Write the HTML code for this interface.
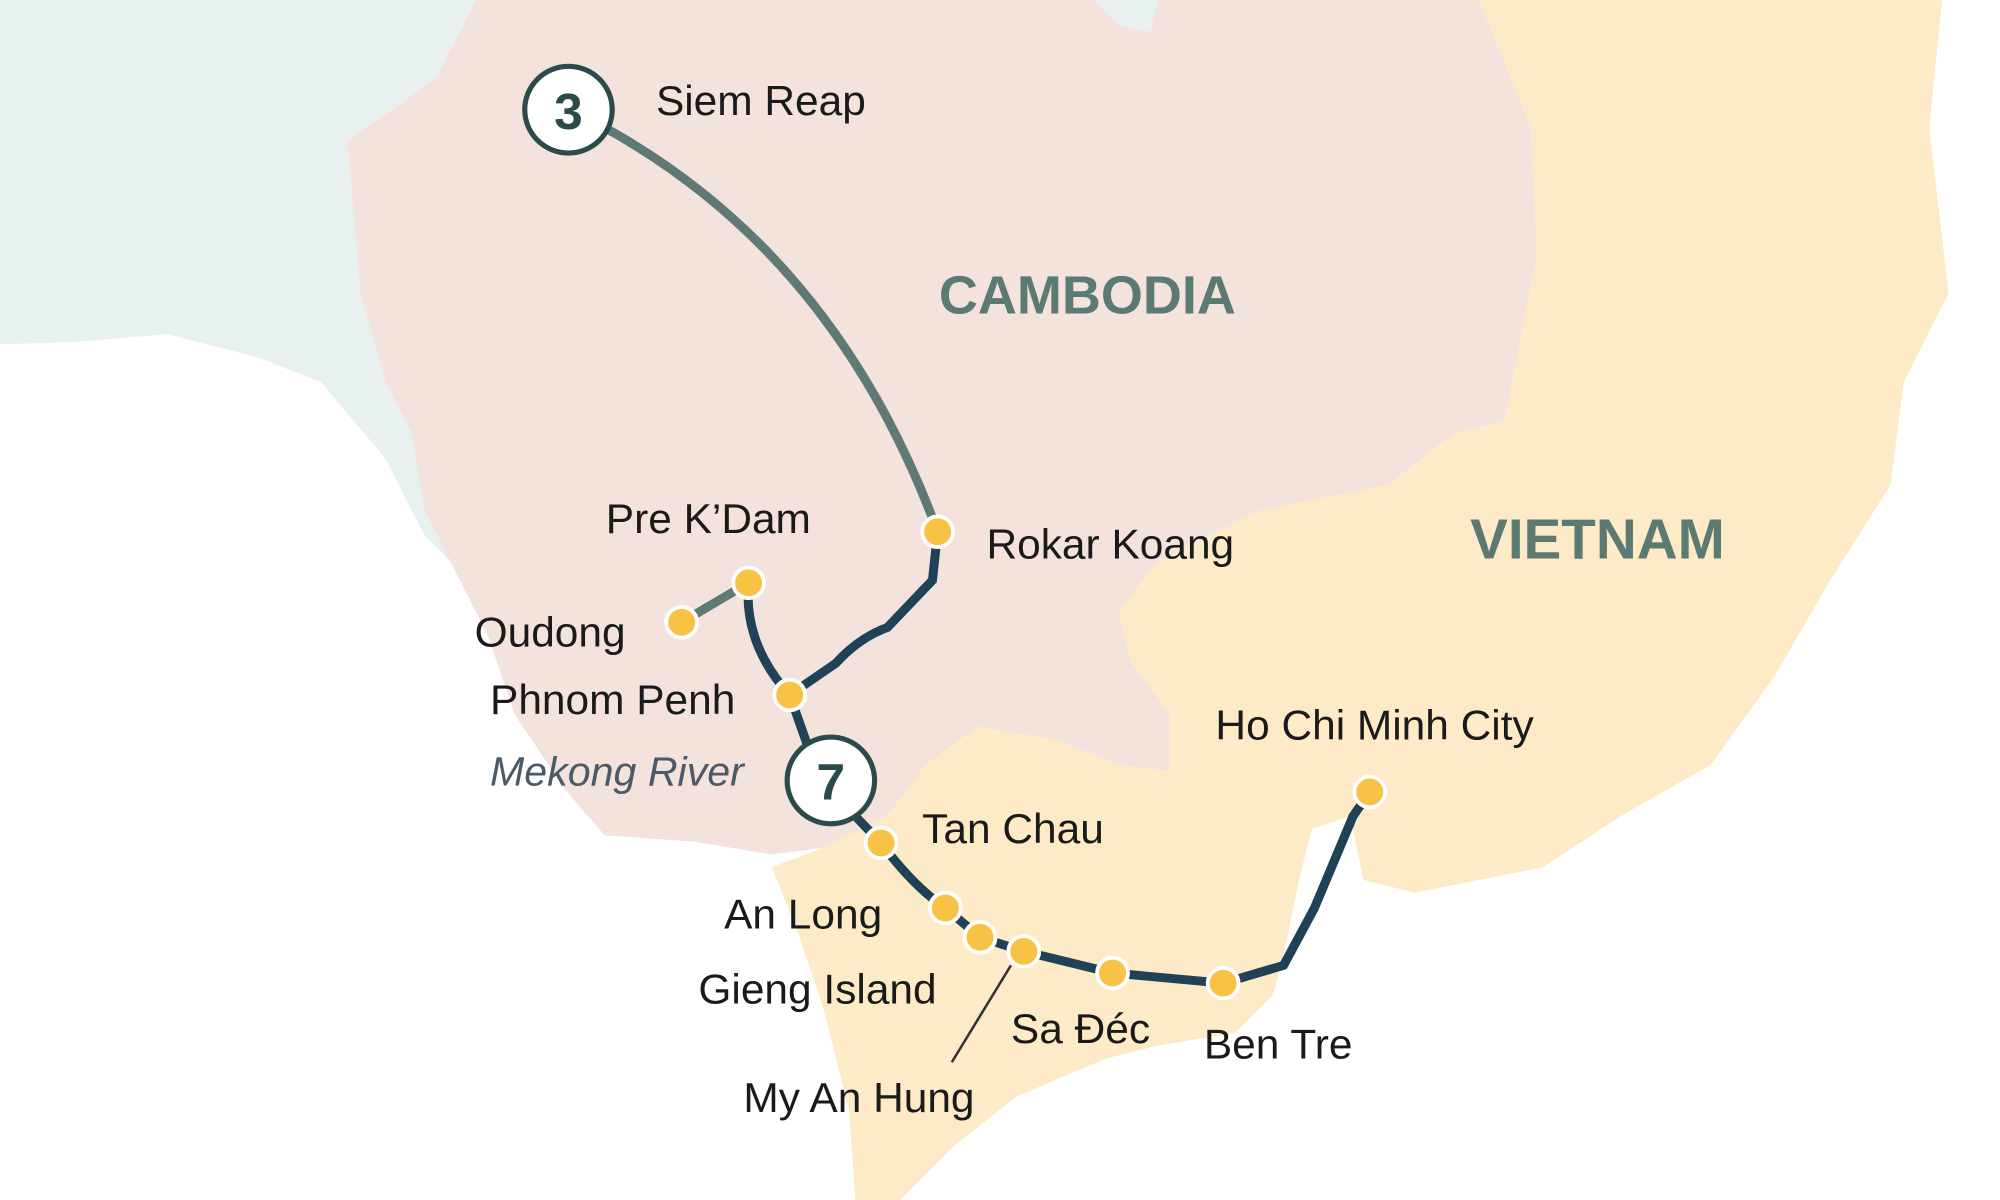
<!DOCTYPE html>
<html><head><meta charset="utf-8"><style>
html,body{margin:0;padding:0;background:#fff;}
svg{display:block;}
text{font-family:"Liberation Sans",sans-serif;}
</style></head><body>
<svg width="2000" height="1200" viewBox="0 0 1555 941" preserveAspectRatio="none" xmlns="http://www.w3.org/2000/svg">
<rect width="1555" height="941" fill="#ffffff"/>
<!-- light blue land/sea top-left -->
<path d="M0,0 L900,0 L900,30 L860,10 L380,0 L340,60 L300,90 L270,110 L280,230 L300,300 L320,340 L330,400 L350,440 L330,420 L300,360 L250,300 L200,280 L130,262 L60,268 L0,270 Z" fill="#e8f0f0"/>
<path d="M850,0 L900,0 L895,25 L870,20 Z" fill="#e8f0f0"/>
<!-- Cambodia -->
<path d="M370,0 L850,0 L870,20 L895,25 L900,0 L1160,0 L1190,100 L1195,200 L1170,330 L1130,340 L1080,380 L980,400 L900,440 L870,480 L880,520 L910,560 L910,605 L870,600 L820,580 L760,570 L720,600 L690,640 L640,665 L600,670 L540,660 L470,655 L440,620 L420,590 L400,560 L380,500 L350,440 L330,400 L320,340 L300,300 L280,230 L270,110 L300,90 L340,60 Z" fill="#f3e3dc"/>
<!-- Vietnam -->
<path d="M1150,0 L1510,0 L1500,100 L1515,230 L1480,300 L1470,380 L1420,460 L1380,530 L1330,600 L1260,640 L1200,680 L1100,700 L1060,690 L1050,640 L1020,650 L1010,690 L1000,740 L990,780 L960,810 L900,820 L860,830 L790,860 L740,900 L700,941 L665,941 L660,870 L640,790 L620,730 L600,680 L640,665 L690,640 L720,600 L760,570 L820,580 L870,600 L910,605 L910,560 L880,520 L870,480 L900,440 L980,400 L1080,380 L1130,340 L1170,330 L1195,200 L1190,100 Z" fill="#fdebc8"/>
<!-- routes -->
<path d="M470,100 Q650,200 729,417" fill="none" stroke="#5f7a74" stroke-width="7"/>
<path d="M530,488 L582,457" fill="none" stroke="#5f7a74" stroke-width="7"/>
<path d="M729,417 L725,455 L690,492 Q668,500 650,520 L614,545" fill="none" stroke="#1f4257" stroke-width="7"/>
<path d="M582,457 Q578,505 614,545 L628,585" fill="none" stroke="#1f4257" stroke-width="7"/>
<path d="M665,640 L685,661 Q710,695 735,712 L762,735 L796,746 L865,763 L951,771 L998,757 L1022,712 L1052,640 L1065,621" fill="none" stroke="#1f4257" stroke-width="7" stroke-linejoin="round"/>
<line x1="786" y1="757" x2="740" y2="833" stroke="#333" stroke-width="2"/>
<!-- dots -->
<g fill="#f8c245" stroke="#ffffff" stroke-width="3">
<circle cx="729" cy="417" r="12"/><circle cx="582" cy="457" r="12"/><circle cx="530" cy="488" r="12"/>
<circle cx="614" cy="545" r="12"/><circle cx="685" cy="661" r="12"/><circle cx="735" cy="712" r="12"/>
<circle cx="762" cy="735" r="12"/><circle cx="796" cy="746" r="12"/><circle cx="865" cy="763" r="12"/>
<circle cx="951" cy="771" r="12"/><circle cx="1065" cy="621" r="12"/>
</g>
<!-- numbered circles -->
<circle cx="442" cy="86" r="34" fill="#fff" stroke="#2b4a4a" stroke-width="4"/>
<text x="442" y="101" font-size="40" font-weight="bold" fill="#2b4a4a" text-anchor="middle">3</text>
<circle cx="646" cy="612" r="34" fill="#fff" stroke="#2b4a4a" stroke-width="4"/>
<text x="646" y="627" font-size="40" font-weight="bold" fill="#2b4a4a" text-anchor="middle">7</text>
<!-- labels -->
<g font-size="33" fill="#1a1a1a">
<text x="510" y="90">Siem Reap</text>
<text x="767" y="438">Rokar Koang</text>
<text x="471" y="418">Pre K’Dam</text>
<text x="369" y="507">Oudong</text>
<text x="381" y="560">Phnom Penh</text>
<text x="717" y="661">Tan Chau</text>
<text x="563" y="728">An Long</text>
<text x="543" y="787">Gieng Island</text>
<text x="786" y="818">Sa Đéc</text>
<text x="936" y="830">Ben Tre</text>
<text x="578" y="872">My An Hung</text>
<text x="945" y="580">Ho Chi Minh City</text>
</g>
<text x="381" y="616" font-size="32" font-style="italic" fill="#4a5a66">Mekong River</text>
<text x="730" y="246" font-size="42" font-weight="bold" fill="#5a7a72">CAMBODIA</text>
<text x="1143" y="438" font-size="44" font-weight="bold" fill="#5a7a72">VIETNAM</text>
</svg>
</body></html>
